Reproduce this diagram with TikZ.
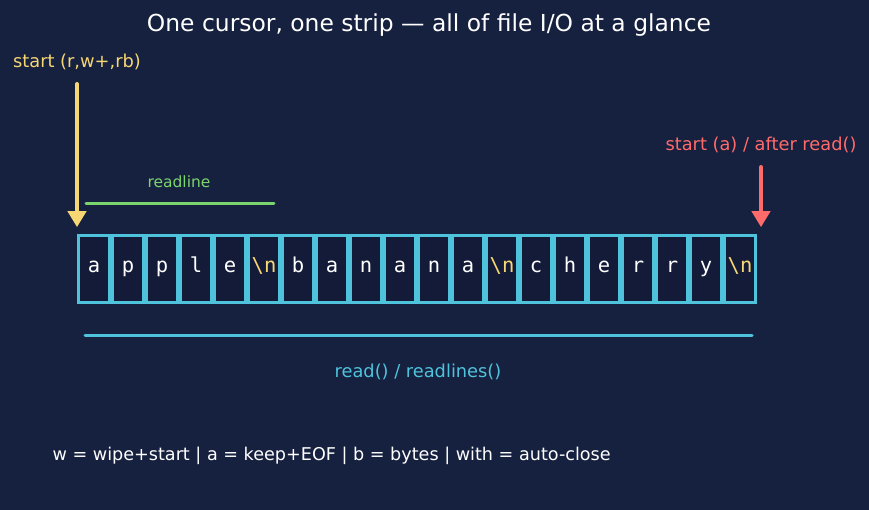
\documentclass[tikz,border=0pt]{standalone}
\usepackage{fontspec}
\setmainfont{DejaVu Sans}
\newfontfamily\cellfont{DejaVu Sans Mono}
\usetikzlibrary{arrows.meta}
\definecolor{bg}{HTML}{16203F}
\definecolor{cellbg}{HTML}{131B38}
\definecolor{cyanc}{HTML}{4FC3DC}
\definecolor{yell}{HTML}{F7D774}
\definecolor{redc}{HTML}{FF6B6B}
\definecolor{greenc}{HTML}{7CD46C}
\def\NL{N}
\tikzset{
  cellbox/.style={draw=cyanc, fill=cellbg, line width=2.6pt, minimum width=31pt, minimum height=67pt, inner sep=0pt, text height=11pt, text depth=4pt, font=\cellfont\fontsize{20.5}{24}\selectfont, text=white},
  lbl/.style={font=\fontsize{17.8}{21}\selectfont},
  ptr/.style={line width=4pt, line cap=round, shorten >=7pt, -{Triangle[length=16pt,width=18pt]}},
}
\begin{document}
\begin{tikzpicture}[x=1pt,y=-1pt]
\fill[bg] (0,0) rectangle (869,510);
\useasboundingbox (0,0) rectangle (869,510);
\node[text=white, font=\fontsize{23.4}{27}\selectfont] (title) at (429,25) {One cursor, one strip — all of file I/O at a glance};
\foreach \c [count=\i from 0] in {a,p,p,l,e,N,b,a,n,a,n,a,N,c,h,e,r,r,y,N}{
  \pgfmathsetmacro\xx{94+34*\i}
  \ifx\c\NL
    \node[cellbox, text=yell] (c\i) at (\xx,269) {\textbackslash n};
  \else
    \node[cellbox] (c\i) at (\xx,269) {\c};
  \fi
}
\node[lbl, text=yell] (ls) at (77,62) {start (r,w+,rb)};
\coordinate (ystart) at (77,84);
\draw[ptr, yell] (ystart) -- (ystart |- c0.north);
\node[lbl, text=redc] (la) at (761,145) {start (a) / after read()};
\coordinate (rstart) at (761,167);
\draw[ptr, redc] (rstart) -- (rstart |- c19.north);
\coordinate (g1) at (86,204);
\coordinate (g2) at (274,204);
\draw[greenc, line width=3pt, line cap=round] (g1) -- (g2);
\node[font=\fontsize{15.5}{18}\selectfont, text=greenc] (lrl) at (179,182) {readline};
\coordinate (b1) at (85,335);
\coordinate (b2) at (752,335);
\draw[cyanc, line width=3pt, line cap=round] (b1) -- (b2);
\node[lbl, text=cyanc] (lr) at (418,372) {read() / readlines()};
\node[font=\fontsize{17.6}{21}\selectfont, text=white, anchor=west] (foot) at (49,456) {w = wipe+start | a = keep+EOF | b = bytes | with = auto-close};
\end{tikzpicture}
\end{document}
